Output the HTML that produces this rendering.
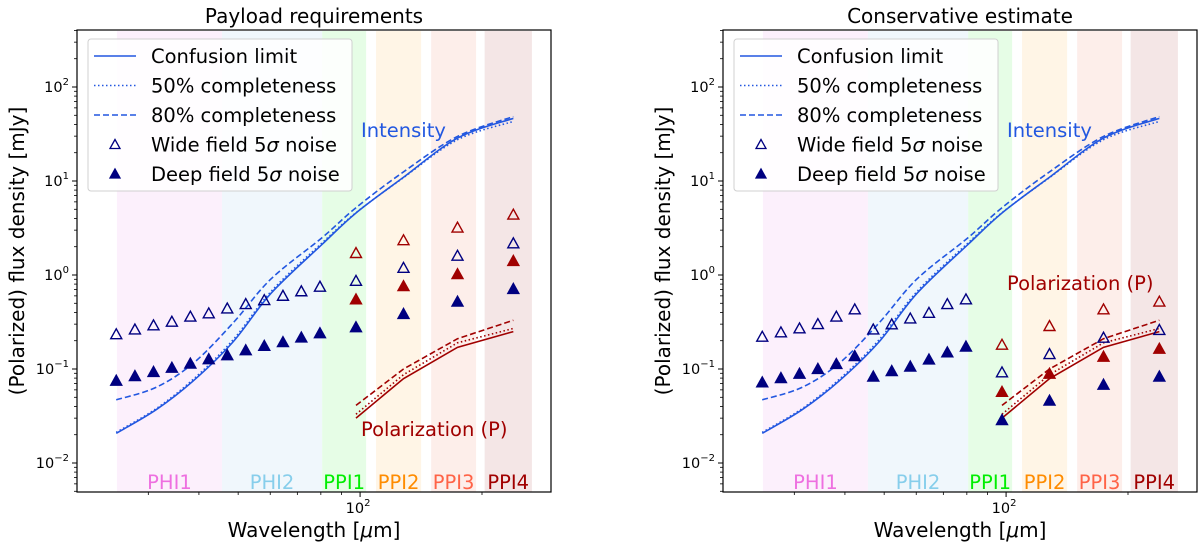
<!DOCTYPE html>
<html><head><meta charset="utf-8"><style>
body{margin:0;background:#fff;}
svg{display:block;font-family:"DejaVu Sans","Liberation Sans",sans-serif;}
</style></head><body>
<svg id="chart" width="1200" height="548" viewBox="0 0 1200 548"></svg>
<script>
// ---- data ----
const bandNames = ["PHI1","PHI2","PPI1","PPI2","PPI3","PPI4"];
const bandStart = [25.1,45.6,80.6,109.5,149.8,203];
const bandEnd = [45.6,80.6,103.5,141.5,193.4,265.6];
const bandFill = ["#fcf0fc","#f0f7fc","#e6fde6","#fff5e6","#fdeeea","#f4e6e6"];
const bandText = ["#ee70e0","#87ceeb","#00ee00","#ff8c00","#ff6347","#a00000"];
const phiLambda = [25,27.8,30.9,34.3,38.1,42.3,47,52.2,58,64.5,71.6,79.6];
const ppiLambda = [97.7,128,174,239];
const curveLambda = [25,31.4,38.9,48.6,60.3,80.6,97.7,127,174,239];
const confusionI = [0.0207,0.037,0.076,0.195,0.64,2.12,4.57,10.7,28.6,46.4];
const comp50I = [0.0212,0.038,0.079,0.205,0.67,2.2,4.6,10.6,27.5,43];
const comp80I = [0.047,0.064,0.117,0.31,0.91,2.5,5.2,12.2,29.8,48.4];
const polLambda = [97.7,128,174,239];
const confusionP = [0.030,0.079,0.17,0.25];
const comp50P = [0.033,0.087,0.19,0.27];
const comp80P = [0.041,0.10,0.21,0.33];
// panel A (payload requirements)
const wideA = [0.234,0.263,0.291,0.318,0.36,0.39,0.44,0.49,0.54,0.60,0.67,0.75];
const deepA = [0.075,0.084,0.093,0.103,0.114,0.127,0.14,0.158,0.176,0.193,0.216,0.24];
const wideIA = [0.865,1.19,1.6,2.17];
const widePA = [1.71,2.34,3.19,4.38];
const deepIA = [0.278,0.385,0.52,0.71];
const deepPA = [0.55,0.76,1.02,1.41];
// panel B (conservative estimate)
const wideB = [0.22,0.245,0.27,0.30,0.36,0.43,0.263,0.298,0.344,0.395,0.489,0.55];
const deepB = [0.072,0.08,0.089,0.10,0.113,0.137,0.083,0.095,0.106,0.126,0.15,0.173];
const wideIB = [0.092,0.144,0.215,0.26];
const widePB = [0.181,0.286,0.43,0.52];
const deepIB = [0.0286,0.046,0.068,0.083];
const deepPB = [0.057,0.089,0.135,0.164];
const yTickExp = [-2,-1,0,1,2];

const NS="http://www.w3.org/2000/svg";
const svg=document.getElementById('chart');
function mk(tag,attrs,parent){const e=document.createElementNS(NS,tag);for(const k in attrs)e.setAttribute(k,attrs[k]);(parent||svg).appendChild(e);return e;}
const BLUE="#2257e0",RED="#a00000",NAVY="#000080";
const TOP=30,BOT=492,W=474;

function smoothPath(pts){
  let d='M'+pts[0][0]+','+pts[0][1];
  for(let i=0;i<pts.length-1;i++){
    const p0=pts[i-1]||pts[i],p1=pts[i],p2=pts[i+1],p3=pts[i+2]||p2;
    const c1=[p1[0]+(p2[0]-p0[0])/6,p1[1]+(p2[1]-p0[1])/6];
    const c2=[p2[0]-(p3[0]-p1[0])/6,p2[1]-(p3[1]-p1[1])/6];
    d+=` C${c1[0]},${c1[1]} ${c2[0]},${c2[1]} ${p2[0]},${p2[1]}`;
  }
  return d;
}
function straightPath(pts){return 'M'+pts.map(p=>p[0]+','+p[1]).join(' L');}

function panel(x0,title,wide,deep,wideI,wideP,deepI,deepP,polPos,id){
  const g=mk('g',{});
  
  
  const X=l=>x0+(Math.log10(l)-Math.log10(20))*405;
  const Y=v=>463-(Math.log10(v)+2)*94;
  bandNames.forEach((n,i)=>{
    const r=mk('rect',{x:X(bandStart[i]),y:TOP+1,width:X(bandEnd[i])-X(bandStart[i]),height:BOT-TOP-1,fill:bandFill[i]},g);
    
    
    const t=mk('text',{x:(X(bandStart[i])+X(bandEnd[i]))/2,y:489,'text-anchor':'middle','font-size':19.5,fill:bandText[i]},g);
    t.textContent=n;
    
    
  });
  function line(xs,ys,color,dash,name,smooth){
    const pts=xs.map((l,i)=>[X(l),Y(ys[i])]);
    const p=mk('path',{d:smooth?smoothPath(pts):straightPath(pts),fill:'none',stroke:color,'stroke-width':1.6,'stroke-dasharray':dash},g);
    
    
  }
  line(curveLambda,confusionI,BLUE,'none','intensity-confusion-line',true);
  line(curveLambda,comp50I,BLUE,'1.5 2.5','intensity-50-line',true);
  line(curveLambda,comp80I,BLUE,'6 3','intensity-80-line',true);
  line(polLambda,confusionP,RED,'none','polarization-confusion-line',false);
  line(polLambda,comp50P,RED,'1.5 2.5','polarization-50-line',false);
  line(polLambda,comp80P,RED,'6 3','polarization-80-line',false);
  function tri(cx,cy,color,open,name){
    const s=5.5;
    const p=mk('polygon',{points:`${cx},${cy-s} ${cx-s},${cy+s*0.8} ${cx+s},${cy+s*0.8}`,fill:open?'none':color,stroke:color,'stroke-width':1.4},g);
    
    
  }
  phiLambda.forEach((l,i)=>{tri(X(l),Y(wide[i]),NAVY,true,'wide-point');tri(X(l),Y(deep[i]),NAVY,false,'deep-point');});
  ppiLambda.forEach((l,i)=>{
    tri(X(l),Y(wideI[i]),NAVY,true,'wide-i-point');
    tri(X(l),Y(wideP[i]),RED,true,'wide-p-point');
    tri(X(l),Y(deepI[i]),NAVY,false,'deep-i-point');
    tri(X(l),Y(deepP[i]),RED,false,'deep-p-point');
  });
  let t=mk('text',{x:x0+284,y:137,'font-size':19.5,fill:BLUE},g);t.textContent='Intensity';
  
  t=mk('text',{x:x0+284,y:polPos,'font-size':19.5,fill:RED},g);t.textContent='Polarization (P)';
  
  const f=mk('rect',{x:x0,y:TOP,width:W,height:BOT-TOP,fill:'none',stroke:'#000','stroke-width':1.2},g);
  
  yTickExp.forEach(e=>{
    const y=Y(Math.pow(10,e));
    mk('line',{x1:x0-5,x2:x0,y1:y,y2:y,stroke:'#000','stroke-width':1},g);
    const tt=mk('text',{x:x0-8,y:y+5,'text-anchor':'end','font-size':14.5},g);
    
    tt.innerHTML='10<tspan dy="-7" font-size="10">'+(e<0?'\u2212'+(-e):e)+'</tspan>';
  });
  for(let e=-3;e<=2;e++)for(let m=2;m<=9;m++){
    const v=m*Math.pow(10,e);const y=Y(v);
    if(y<TOP||y>BOT)continue;
    mk('line',{x1:x0-3,x2:x0,y1:y,y2:y,stroke:'#000','stroke-width':0.8},g);
  }
  [30,40,50,60,70,80,90,200].forEach(v=>{const x=X(v);mk('line',{x1:x,x2:x,y1:BOT,y2:BOT+3,stroke:'#000','stroke-width':0.8},g);});
  const x100=X(100);
  mk('line',{x1:x100,x2:x100,y1:BOT,y2:BOT+5,stroke:'#000','stroke-width':1},g);
  t=mk('text',{x:x100-2,y:BOT+21,'text-anchor':'middle','font-size':14.5},g);
  t.innerHTML='10<tspan dy="-7" font-size="10">2</tspan>';
  
  t=mk('text',{x:x0+W/2,y:23,'text-anchor':'middle','font-size':20},g);t.textContent=title;
  
  t=mk('text',{x:x0+W/2,y:537,'text-anchor':'middle','font-size':20},g);t.innerHTML='Wavelength [<tspan font-style="italic">μ</tspan>m]';
  
  t=mk('text',{x:0,y:0,'text-anchor':'middle','font-size':20,transform:`translate(${x0-53},${(TOP+BOT)/2-10}) rotate(-90)`},g);t.textContent='(Polarized) flux density [mJy]';
  
  const lg=mk('g',{},g);
  
  mk('rect',{x:x0+11,y:39,width:264,height:152,rx:3,fill:'rgba(255,255,255,0.85)',stroke:'#d0d0d0'},lg);
  const rows=[['Confusion limit','none'],['50% completeness','1.5 2.5'],['80% completeness','6 3'],['Wide field 5σ noise','o'],['Deep field 5σ noise','f']];
  rows.forEach((r,i)=>{
    const y=56+i*29.5;
    if(r[1]==='o'||r[1]==='f'){
      const s=5;const cx=x0+38;
      mk('polygon',{points:`${cx},${y-s} ${cx-s},${y+s*0.8} ${cx+s},${y+s*0.8}`,fill:r[1]==='f'?NAVY:'none',stroke:NAVY,'stroke-width':1.3},lg);
    } else mk('line',{x1:x0+17,x2:x0+59,y1:y,y2:y,stroke:BLUE,'stroke-width':1.6,'stroke-dasharray':r[1]},lg);
    const tx=mk('text',{x:x0+74,y:y+7,'font-size':19.5},lg);
    tx.innerHTML=r[0].replace('σ','<tspan font-style="italic">σ</tspan>');
    
  });
}
panel(77,'Payload requirements',wideA,deepA,wideIA,widePA,deepIA,deepPA,436,'payload');
panel(723,'Conservative estimate',wideB,deepB,wideIB,widePB,deepIB,deepPB,290,'conservative');
</script>
</body></html>
